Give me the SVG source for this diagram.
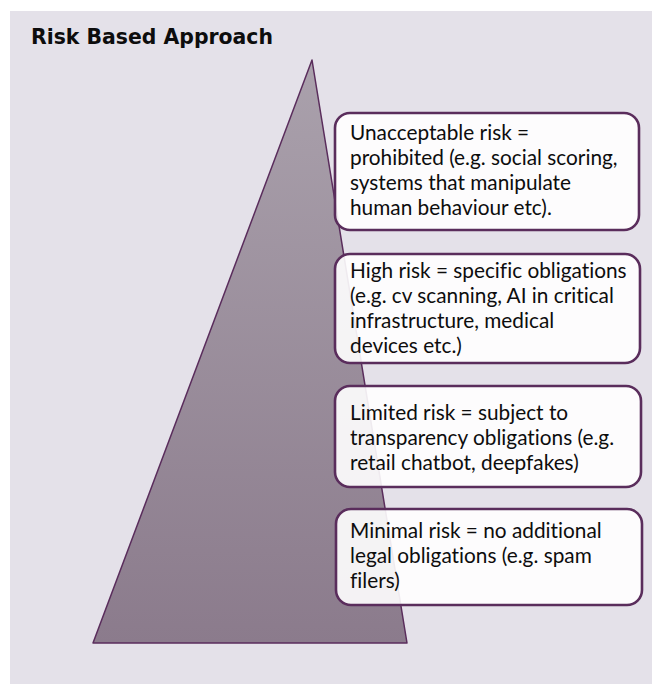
<svg xmlns="http://www.w3.org/2000/svg" width="652" height="684" viewBox="0 0 652 684">
  <style>
    .title { font-family: "DejaVu Sans", "Liberation Sans", sans-serif; font-weight: bold; font-size: 22px; fill: #0d0d0d; }
    .box { fill: #ffffff; fill-opacity: 0.9; stroke: #5a2d5c; stroke-width: 2.6; }
    .label { font-family: Lato, "Liberation Sans", sans-serif; font-size: 20.8px; fill: #0d0d0d; font-variant-ligatures: none; font-feature-settings: "liga" 0, "dlig" 0; }
  </style>
  <defs>
    <linearGradient id="pyramidFill" x1="0" y1="0" x2="0" y2="1">
      <stop offset="0" stop-color="#aaa1ac"/>
      <stop offset="1" stop-color="#8b7b8c"/>
    </linearGradient>
  </defs>

  <!-- backdrop panel -->
  <rect x="10" y="11" width="642" height="673" fill="#e4e1e9"/>

  <text class="title" x="31" y="44" textLength="242" lengthAdjust="spacingAndGlyphs">Risk Based Approach</text>

  <!-- risk pyramid -->
  <g id="pyramid">
    <polygon points="312,60 407,643 93,643" fill="url(#pyramidFill)" stroke="#5a2d5c" stroke-width="1.5" stroke-linejoin="round"/>
  </g>

  <g id="connectors"></g>

  <g id="unacceptable">
    <rect class="box" x="335" y="113" width="304" height="117" rx="15"/>
    <text class="label">
      <tspan x="350" y="140">Unacceptable risk =</tspan>
      <tspan x="350" y="165">prohibited (e.g. social scoring,</tspan>
      <tspan x="350" y="190">systems that manipulate</tspan>
      <tspan x="350" y="215">human behaviour etc).</tspan>
    </text>
  </g>

  <g id="high">
    <rect class="box" x="335" y="254" width="305" height="109" rx="15"/>
    <text class="label">
      <tspan x="350" y="278">High risk = specific obligations</tspan>
      <tspan x="350" y="303">(e.g. cv scanning, AI in critical</tspan>
      <tspan x="350" y="328">infrastructure, medical</tspan>
      <tspan x="350" y="353">devices etc.)</tspan>
    </text>
  </g>

  <g id="limited">
    <rect class="box" x="335" y="386" width="306" height="101" rx="15"/>
    <text class="label">
      <tspan x="350" y="420">Limited risk = subject to</tspan>
      <tspan x="350" y="445">transparency obligations (e.g.</tspan>
      <tspan x="350" y="470">retail chatbot, deepfakes)</tspan>
    </text>
  </g>

  <g id="minimal">
    <rect class="box" x="336" y="509" width="306" height="96" rx="15"/>
    <text class="label">
      <tspan x="350" y="538">Minimal risk = no additional</tspan>
      <tspan x="350" y="563">legal obligations (e.g. spam</tspan>
      <tspan x="350" y="588">filers)</tspan>
    </text>
  </g>
</svg>
